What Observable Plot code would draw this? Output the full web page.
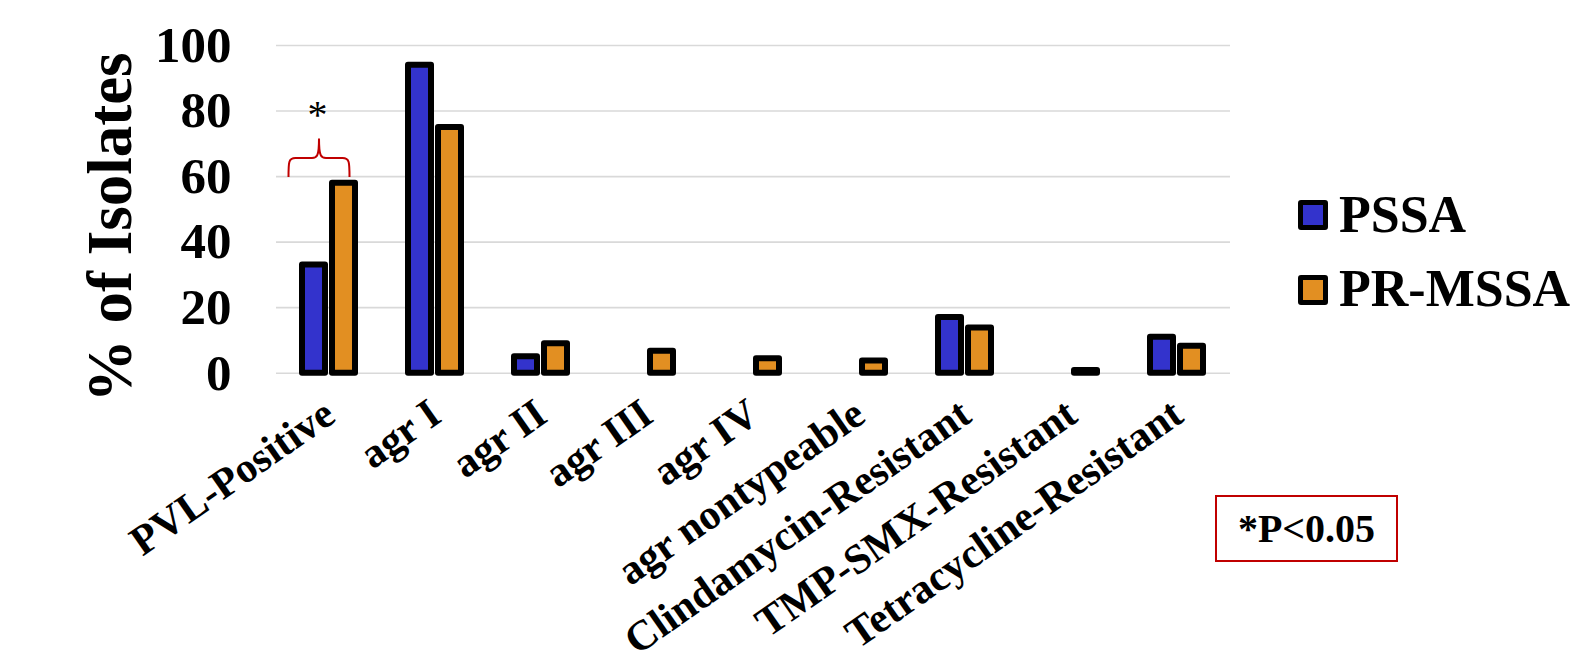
<!DOCTYPE html>
<html>
<head>
<meta charset="utf-8">
<script src="https://cdn.jsdelivr.net/npm/d3@7"></script>
<script src="https://cdn.jsdelivr.net/npm/@observablehq/plot@0.6"></script>
<style>
  html, body { margin: 0; padding: 0; background: white; }
  #wrap { position: relative; width: 1577px; height: 663px; overflow: hidden; font-family: "Liberation Serif", "Times New Roman", serif; }
  #chart { position: absolute; left: 0; top: 0; }
  .leg-sw { position: absolute; width: 20px; height: 20px; border: 5.5px solid black; border-radius: 3px; }
  .leg-tx { position: absolute; font-size: 52px; line-height: 52px; font-weight: bold; color: black; white-space: nowrap; }
  #pbox { position: absolute; left: 1215px; top: 495px; width: 183px; height: 67px; box-sizing: border-box;
          border: 2px solid #c00000; display: flex; align-items: center; justify-content: center;
          font-size: 40px; font-weight: bold; color: black; }
</style>
</head>
<body>
<div id="wrap">
  <div id="chart"></div>
  <div class="leg-sw" style="left:1298px; top:200px; background:#3333CC;"></div>
  <div class="leg-tx" style="left:1339px; top:189px;">PSSA</div>
  <div class="leg-sw" style="left:1298px; top:275px; background:#E28F22;"></div>
  <div class="leg-tx" style="left:1339px; top:263px;">PR-MSSA</div>
  <div id="pbox">*P&lt;0.05</div>
</div>
<script>
const categories = ["PVL-Positive", "agr I", "agr II", "agr III", "agr IV", "agr nontypeable", "Clindamycin-Resistant", "TMP-SMX-Resistant", "Tetracycline-Resistant"];
const series = ["PSSA", "PR-MSSA"];
const pssaValues = [33, 94, 5, 0, 0, 0, 17, 0, 11];
const prmssaValues = [58, 75, 9, 6.7, 4.4, 3.7, 13.8, 0.8, 8.2];
const yTicks = [0, 20, 40, 60, 80, 100];
const seriesColors = ["#3333CC", "#E28F22"];
const yTitle = "% of Isolates";
const sigMark = "*";
const sigCategory = "PVL-Positive";
const braceLevels = {ends: 59.7, mid: 65.5, tip: 71.5};
const starLevel = 78.6;

const table = categories.flatMap((c, i) => [
  {cat: c, series: series[0], value: pssaValues[i]},
  {cat: c, series: series[1], value: prmssaValues[i]}
]).filter(d => d.value > 0);

const font = "Liberation Serif";

function braceRender(index, scales, values, dimensions, context) {
  if (!index.length) return null;
  const {x, y} = scales;
  const bw = x.bandwidth();
  const L = x(series[0]) - 13.5;
  const R = x(series[1]) + bw - 5.5;
  const M = (L + R) / 2;
  const yE = y(braceLevels.ends), yH = y(braceLevels.mid), yT = y(braceLevels.tip);
  const r = 7;
  const d = `M${L},${yE} C${L},${yH + 4} ${L},${yH} ${L + r},${yH} L${M - r},${yH} C${M - 2},${yH} ${M},${yH - 2} ${M},${yT}` +
            ` M${M},${yT} C${M},${yH - 2} ${M + 2},${yH} ${M + r},${yH} L${R - r},${yH} C${R},${yH} ${R},${yH + 4} ${R},${yE}`;
  const p = document.createElementNS("http://www.w3.org/2000/svg", "path");
  p.setAttribute("d", d);
  p.setAttribute("fill", "none");
  p.setAttribute("stroke", "#c00000");
  p.setAttribute("stroke-width", "2");
  return p;
}

const chart = Plot.plot({
  width: 1577,
  height: 663,
  marginLeft: 273,
  marginRight: 345,
  marginTop: 45,
  marginBottom: 290.3,
  fx: {domain: categories, padding: 0, axis: null},
  x: {domain: series, paddingInner: 0.23, paddingOuter: 0.862, axis: null},
  y: {domain: [0, 100], axis: null},
  color: {domain: series, range: seriesColors},
  style: {fontFamily: font, color: "black", background: "white", overflow: "visible"},
  marks: [
    Plot.gridY(yTicks, {stroke: "#d9d9d9", strokeOpacity: 1, strokeWidth: 1.6}),
    Plot.axisY({ticks: yTicks, tickSize: 0, tickPadding: 45, fontSize: 51, fontWeight: "bold", label: null, fill: "black"}),
    Plot.barY(table, {fx: "cat", x: "series", y: "value", fill: "series", stroke: "black", strokeWidth: 6, strokeLinejoin: "round"}),
    Plot.text(categories, {fx: d => d, text: d => d, frameAnchor: "bottom", rotate: -35, textAnchor: "end", lineAnchor: "bottom", dx: 8, dy: 47, fontSize: 42, fontWeight: "bold", fill: "black"}),
    Plot.text([yTitle], {fx: () => categories[0], text: d => d, frameAnchor: "left", rotate: -90, textAnchor: "middle", lineAnchor: "middle", dx: -166, dy: 18, fontSize: 63, fontWeight: "bold", fill: "black"}),
    Plot.text([sigMark], {fx: () => sigCategory, text: d => d, y: () => starLevel, dx: -12, fontSize: 40, fill: "black"}),
    Plot.dot([braceLevels], {fx: () => sigCategory, x: () => series[0], y: d => d.mid, render: braceRender})
  ]
});
document.getElementById("chart").appendChild(chart);
</script>
</body>
</html>
